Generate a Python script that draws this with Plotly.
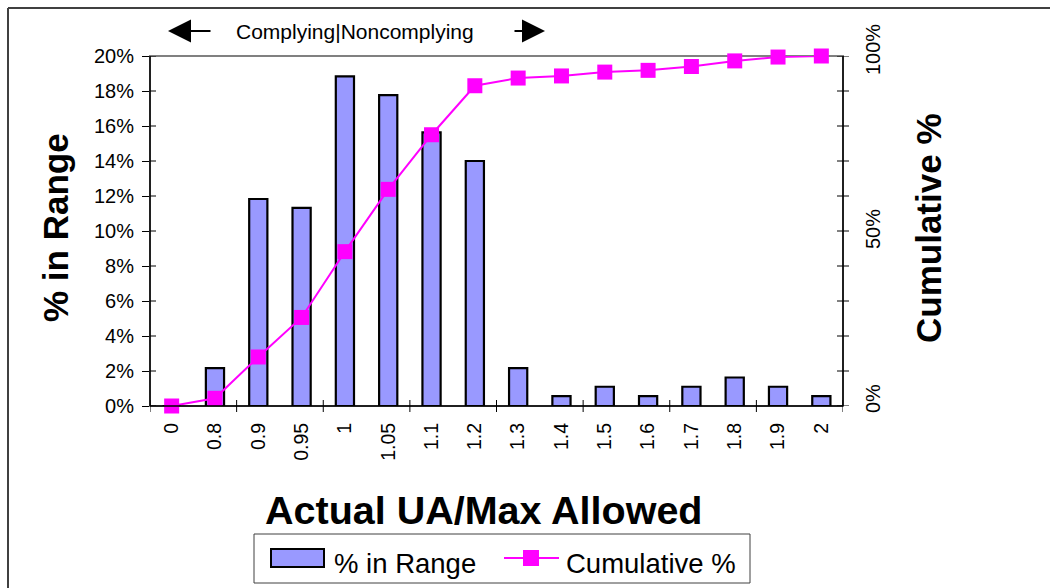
import plotly.graph_objects as go

# Histogram of Actual UA / Max Allowed ratios with running cumulative share
categories = ["0", "0.8", "0.9", "0.95", "1", "1.05", "1.1", "1.2",
              "1.3", "1.4", "1.5", "1.6", "1.7", "1.8", "1.9", "2"]
pct_in_range = [0, 2.16, 11.83, 11.32, 18.84, 17.76, 15.64, 14.0,
                2.16, 0.57, 1.1, 0.57, 1.1, 1.63, 1.1, 0.57]
cumulative_pct = [0, 2.2, 14.0, 25.3, 44.1, 61.9, 77.5, 91.5,
                  93.7, 94.3, 95.4, 95.9, 97.0, 98.6, 99.7, 100]

left_ticks = list(range(0, 21, 2))
left_tick_text = [f"{v}%" for v in left_ticks]
right_ticks = list(range(0, 101, 10))
right_labels = {0: "0%", 50: "50%", 100: "100%"}

FONT = "Arial, Liberation Sans, sans-serif"
BAR_FILL = "#9999FF"
LINE_COLOR = "#FF00FF"

# plot area in pixels: left 150, right 843, top 56, bottom 406
PL, PR, PT, PB = 150, 843, 56, 406


def px(x):
    return (x - PL) / (PR - PL)


def py(y):
    return (PB - y) / (PB - PT)


fig = go.Figure()
fig.add_trace(go.Bar(
    x=categories, y=pct_in_range, name="% in Range",
    marker=dict(color=BAR_FILL, line=dict(color="black", width=2.2)),
    width=0.42,
))
fig.add_trace(go.Scatter(
    x=categories, y=cumulative_pct, name="Cumulative %", yaxis="y2",
    mode="lines+markers",
    line=dict(color=LINE_COLOR, width=2),
    marker=dict(symbol="square", size=15, color=LINE_COLOR),
    cliponaxis=False,
))

shapes = []
# plot-area frame
shapes.append(dict(type="rect", xref="paper", yref="paper", x0=0, x1=1, y0=0, y1=1,
                   line=dict(color="#808080", width=2), layer="below"))
# outer chart frame (left and top edges)
shapes.append(dict(type="line", xref="paper", yref="paper", x0=px(8), x1=px(8),
                   y0=py(600), y1=py(8), line=dict(color="#404040", width=2)))
shapes.append(dict(type="line", xref="paper", yref="paper", x0=px(8), x1=px(1060),
                   y0=py(8), y1=py(8), line=dict(color="#404040", width=2)))
# inner halves of the left-axis ticks
for v in left_ticks:
    shapes.append(dict(type="line", xref="paper", yref="y", x0=0, x1=px(156), y0=v, y1=v,
                       line=dict(color="black", width=1)))
# right-axis ticks crossing the axis line
for v in right_ticks:
    shapes.append(dict(type="line", xref="paper", yref="y2", x0=px(837), x1=px(849), y0=v, y1=v,
                       line=dict(color="black", width=1)))
# category-boundary ticks on the x axis, every second boundary
for k in range(0, len(categories) + 1, 2):
    shapes.append(dict(type="line", xref="x", yref="paper", x0=k - 0.5, x1=k - 0.5,
                       y0=py(412), y1=py(400), line=dict(color="black", width=1)))
# axis lines
shapes.append(dict(type="line", xref="paper", yref="paper", x0=0, x1=1, y0=0, y1=0,
                   line=dict(color="black", width=1.5)))
shapes.append(dict(type="line", xref="paper", yref="paper", x0=0, x1=0, y0=0, y1=1,
                   line=dict(color="black", width=1.5)))
shapes.append(dict(type="line", xref="paper", yref="paper", x0=1, x1=1, y0=0, y1=1,
                   line=dict(color="black", width=1.5)))

# legend box, drawn by hand so the bar key is a wide outlined swatch
shapes.append(dict(type="rect", xref="paper", yref="paper", x0=px(254), x1=px(750),
                   y0=py(583), y1=py(534), line=dict(color="#404040", width=1),
                   fillcolor="white"))
shapes.append(dict(type="rect", xref="paper", yref="paper", x0=px(271), x1=px(324),
                   y0=py(567), y1=py(549), line=dict(color="black", width=2),
                   fillcolor=BAR_FILL))
shapes.append(dict(type="line", xref="paper", yref="paper", x0=px(504), x1=px(559),
                   y0=py(558), y1=py(558), line=dict(color=LINE_COLOR, width=2)))
shapes.append(dict(type="rect", xref="paper", yref="paper", x0=px(523), x1=px(539),
                   y0=py(566), y1=py(550), line=dict(width=0), fillcolor=LINE_COLOR))


def label(x, y, text, size, bold=False, angle=0, anchor="center"):
    return dict(xref="paper", yref="paper", x=px(x), y=py(y),
                text=f"<b>{text}</b>" if bold else text, textangle=angle,
                xanchor=anchor, yanchor="middle", showarrow=False,
                font=dict(family=FONT, size=size, color="black"))


annotations = []
for v, txt in right_labels.items():
    shift = {0: 7, 50: 2, 100: 6}[v]
    annotations.append(dict(xref="paper", yref="y2", x=px(873), y=v, yshift=shift, text=txt,
                            textangle=-90, showarrow=False, xanchor="center",
                            yanchor="middle",
                            font=dict(family=FONT, size=20, color="black")))
annotations += [
    label(484, 510, "Actual UA/Max Allowed", 39.5, bold=True),
    label(55, 228, "% in Range", 35, bold=True, angle=-90),
    label(928, 228, "Cumulative %", 35, bold=True, angle=-90),
    label(355, 31, "Complying|Noncomplying", 21),
    label(332, 563, "% in Range", 27.5, anchor="left"),
    label(564, 563, "Cumulative %", 27.5, anchor="left"),
    dict(xref="paper", yref="paper", x=px(168), y=py(31), text="", showarrow=True,
         ax=44, ay=0, arrowhead=2, arrowsize=2.3, arrowwidth=2, arrowcolor="black"),
    dict(xref="paper", yref="paper", x=px(545), y=py(31), text="", showarrow=True,
         ax=-32, ay=0, arrowhead=2, arrowsize=2.3, arrowwidth=2, arrowcolor="black"),
]

fig.update_layout(
    width=1050, height=588,
    margin=dict(l=PL, r=1050 - PR, t=PT, b=588 - PB, autoexpand=False),
    paper_bgcolor="white", plot_bgcolor="white",
    font=dict(family=FONT, size=20, color="black"),
    xaxis=dict(type="category", categoryorder="array", categoryarray=categories,
               range=[-0.5, len(categories) - 0.5], automargin=False,
               tickangle=-90, ticks="", showgrid=False, zeroline=False,
               ticklabelstandoff=12, tickfont=dict(size=19.5)),
    yaxis=dict(range=[0, 20], tickvals=left_ticks, ticktext=left_tick_text, automargin=False,
               ticks="outside", ticklen=7, tickcolor="black", showgrid=False,
               zeroline=False, ticklabelstandoff=4, tickfont=dict(size=20)),
    yaxis2=dict(range=[0, 100], overlaying="y", side="right", showticklabels=False,
                automargin=False, ticks="", showgrid=False, zeroline=False),
    showlegend=False,
    shapes=shapes, annotations=annotations,
)

fig.write_html("out.html")
